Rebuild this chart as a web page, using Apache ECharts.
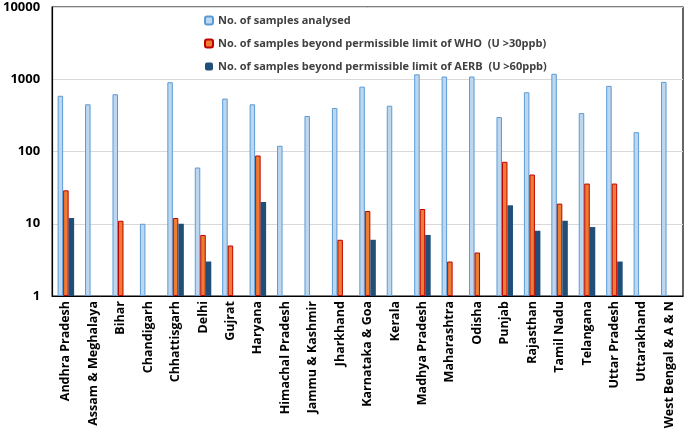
<!DOCTYPE html>
<html><head><meta charset="utf-8">
<script src="https://cdn.jsdelivr.net/npm/echarts@6/dist/echarts.min.js"></script>
<style>html,body{margin:0;padding:0;background:#fff}#c{width:685px;height:435px}</style>
</head><body><div id="c"></div>
<script>
const states = ["Andhra Pradesh","Assam & Meghalaya","Bihar","Chandigarh","Chhattisgarh","Delhi","Gujrat","Haryana","Himachal Pradesh","Jammu & Kashmir","Jharkhand","Karnataka & Goa","Kerala","Madhya Pradesh","Maharashtra","Odisha","Punjab","Rajasthan","Tamil Nadu","Telangana","Uttar Pradesh","Uttarakhand","West Bengal & A & N"];
const analysed = [590,450,620,10,910,60,540,450,120,310,400,790,430,1170,1090,1090,300,660,1190,340,810,185,920];
const beyondWHO = [29,null,11,null,12,7,5,88,null,null,6,15,null,16,3,4,72,48,19,36,36,null,null];
const beyondAERB = [12,null,null,null,10,3,null,20,null,null,null,6,null,7,null,null,18,8,11,9,3,null,null];
const seriesNames = ["No. of samples analysed","No. of samples beyond permissible limit of WHO  (U >30ppb)","No. of samples beyond permissible limit of AERB  (U >60ppb)"];

const chart = echarts.init(document.getElementById('c'));
const FONT = "Open Sans";
chart.setOption({
  animation: false,
  textStyle: {fontFamily: FONT},
  grid: {left: 49, right: 2, top: 7, bottom: 139, show: true, borderColor: '#000', borderWidth: 1.2, containLabel: false},
  legend: {
    orient: 'vertical', left: 199, top: 10, itemGap: 12, itemWidth: 8, itemHeight: 8,
    textStyle: {fontFamily: FONT, fontWeight: 'bold', fontSize: 11, color: '#404040'},
    data: seriesNames
  },
  xAxis: {
    type: 'category', data: states, boundaryGap: true,
    axisLine: {lineStyle: {color: '#000', width: 1.2}},
    axisTick: {show: false},
    axisLabel: {interval: 0, rotate: 90, fontFamily: FONT, fontWeight: 'bold', fontSize: 12.5, color: '#000', margin: 5}
  },
  yAxis: {
    type: 'log', logBase: 10, min: 1, max: 10000,
    axisLine: {show: true, lineStyle: {color: '#000', width: 1.2}},
    axisTick: {show: false},
    splitLine: {lineStyle: {color: '#d9d9d9', width: 1}},
    axisLabel: {fontFamily: FONT, fontWeight: 'bold', fontSize: 13, color: '#000', margin: 12,
      formatter: v => String(Math.round(v))}
  },
  series: [
    {name: seriesNames[0], type: 'bar', data: analysed, barWidth: 5.5, barGap: '0%',
     itemStyle: {color: '#BDD7EE', borderColor: '#5B9BD5', borderWidth: 1}},
    {name: seriesNames[1], type: 'bar', data: beyondWHO, barWidth: 5.5, barGap: '0%',
     itemStyle: {color: '#ED7D31', borderColor: '#C00000', borderWidth: 1}},
    {name: seriesNames[2], type: 'bar', data: beyondAERB, barWidth: 5.5, barGap: '0%',
     itemStyle: {color: '#1F4E79', borderColor: '#1F4E79', borderWidth: 0}}
  ]
});
</script></body></html>
